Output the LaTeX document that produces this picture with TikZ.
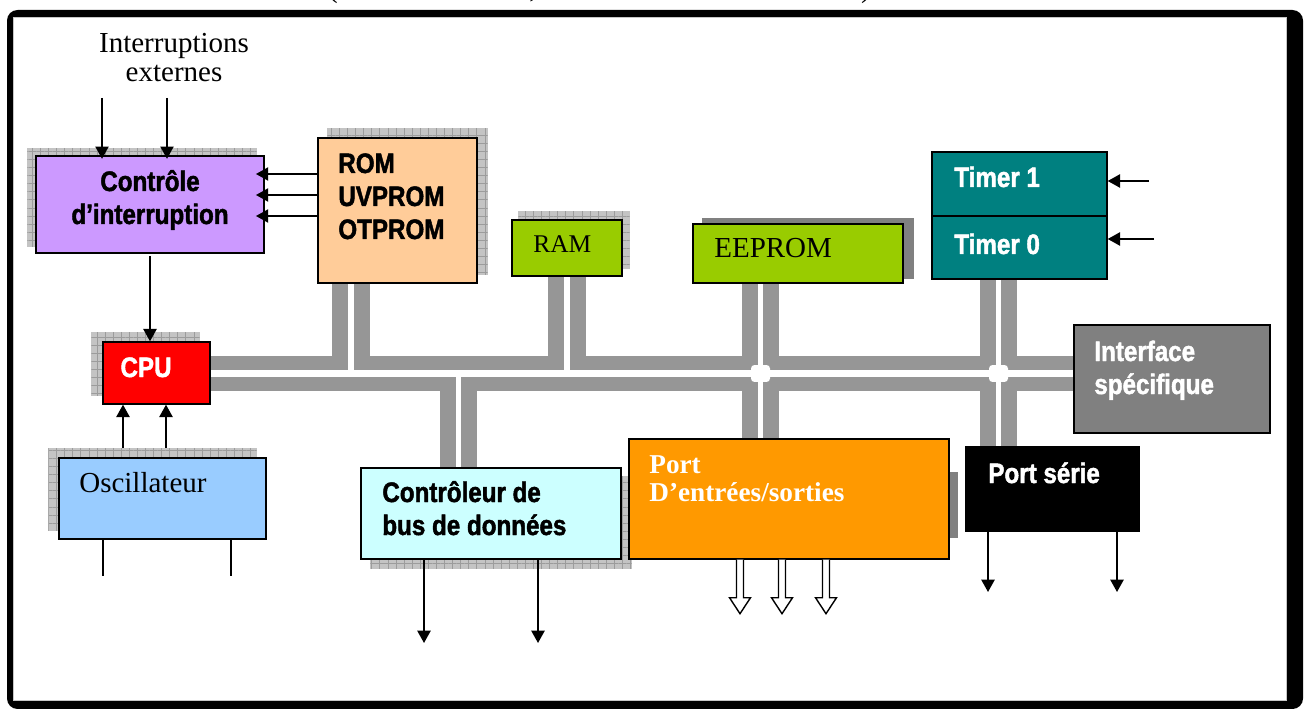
\documentclass[tikz,border=0pt]{standalone}
\usepackage{fontspec}
\setmainfont{Liberation Serif}
\newfontfamily\condfont{Liberation Sans}[FakeStretch=0.86, BoldFeatures={FakeBold=1.6}]
\usetikzlibrary{arrows.meta,fit,patterns.meta}
\definecolor{purpbox}{HTML}{CC99FF}
\definecolor{peachbox}{HTML}{FFCC99}
\definecolor{greenbox}{HTML}{99CC00}
\definecolor{tealbox}{HTML}{008080}
\definecolor{redbox}{HTML}{FF0000}
\definecolor{bluebox}{HTML}{99CCFF}
\definecolor{cyanbox}{HTML}{CCFFFF}
\definecolor{orangebox}{HTML}{FF9900}
\definecolor{greybox}{HTML}{808080}
\definecolor{busgray}{HTML}{969696}
\definecolor{shgray}{HTML}{C4C4C4}
\definecolor{gridgray}{HTML}{9C9C9C}
\definecolor{solidgray}{HTML}{808080}
\pgfdeclarelayer{framelayer}
\pgfdeclarelayer{under}
\pgfsetlayers{framelayer,under,main}
\tikzset{
  harrow/.pic={\draw[line width=0.8pt, fill=white] (-3.5,0) -- (-3.5,38) -- (-10.5,38) -- (0,54) -- (10.5,38) -- (3.5,38) -- (3.5,0);}
}
\begin{document}
\begin{tikzpicture}[x=0.02cm,y=-0.02cm,
  box/.style={draw=black, line width=0.8pt, inner sep=0pt},
  gshadow/.style={fill=shgray, postaction={pattern={Hatch[distance=4.6pt,line width=0.45pt]}, pattern color=gridgray}},
  sshadow/.style={fill=solidgray},
  arr/.style={line width=1pt, -{Triangle[length=7pt,width=7.5pt]}},
  wire/.style={line width=1pt},
  busband/.style={draw=busgray, line width=19.9pt},
  busstub/.style={draw=busgray, line width=21.6pt},
  gaph/.style={draw=white, line width=4.5pt},
  gapv/.style={draw=white, line width=2.9pt},
  cond/.style={font=\condfont\bfseries\fontsize{16}{19}\selectfont, inner sep=0pt, anchor=base west},
  serif/.style={font=\fontsize{16.5}{19}\selectfont, inner sep=0pt, anchor=base west}
]
\useasboundingbox (0,0) rectangle (1307,709);

% frame
\begin{pgfonlayer}{framelayer}
  \fill[black, rounded corners=6pt] (7,10) rectangle (1303,709);
  \fill[white] (13,17) rectangle (1286,700);
  \draw[gray!45, line width=0.5pt] (13,17) rectangle (1286,700);
\end{pgfonlayer}

% cut-off title fragments (only their lower ends are visible in the reference)
\node[serif, anchor=base] (tA) at (333,-2) {(};
\node[serif, anchor=base] (tB) at (533,-2) {,};
\node[serif, anchor=base] (tC) at (866,-2) {)};

% boxes
\node[box, fill=purpbox,   fit={(36,156) (264,253)}]  (ctl) {};
\node[box, fill=peachbox,  fit={(318,138) (477,283)}] (rom) {};
\node[box, fill=greenbox,  fit={(512,220) (622,276)}] (ram) {};
\node[box, fill=greenbox,  fit={(693,224) (903,283)}] (eep) {};
\node[box, fill=tealbox,   fit={(932,152) (1107,216)}] (tm1) {};
\node[box, fill=tealbox,   fit={(932,216) (1107,279)}] (tm0) {};
\node[box, fill=redbox,    fit={(103,342) (210,404)}] (cpu) {};
\node[box, fill=greybox,   fit={(1074,325) (1270,433)}] (iface) {};
\node[box, fill=bluebox,   fit={(59,458) (266,539)}]  (osc) {};
\node[box, fill=cyanbox,   fit={(361,468) (621,559)}] (cb) {};
\node[box, fill=orangebox, fit={(629,439) (949,559)}] (port) {};
\node[box, fill=black,     fit={(966,447) (1139,531)}] (ps) {};

% bus and shadows
\coordinate (busy) at (0,373.5);
\coordinate (xrom) at (351,0);
\coordinate (xram) at (567,0);
\coordinate (xeep) at (760.5,0);
\coordinate (xtm) at (998.5,0);
\coordinate (xcb) at (458.5,0);
\begin{pgfonlayer}{under}
  \draw[busband] (cpu.east |- busy) -- (iface.west |- busy);
  \draw[busstub] (xrom |- rom.south) -- (xrom |- busy);
  \draw[busstub] (xram |- ram.south) -- (xram |- busy);
  \draw[busstub] (xeep |- eep.south) -- (xeep |- port.north);
  \draw[busstub] (xtm |- tm0.south) -- (xtm |- ps.north);
  \draw[busstub] (xcb |- busy) -- (xcb |- cb.north);
  \draw[gaph] (cpu.east |- busy) -- (iface.west |- busy);
  \draw[gapv] (xrom |- rom.south) -- (xrom |- busy);
  \draw[gapv] (xram |- ram.south) -- (xram |- busy);
  \draw[gapv] (xeep |- eep.south) -- (xeep |- port.north);
  \draw[gapv] (xtm |- tm0.south) -- (xtm |- ps.north);
  \draw[gapv] (xcb |- busy) -- (xcb |- cb.north);
  \node[fill=white, rounded corners=2pt, inner sep=0pt, minimum width=0.38cm, minimum height=0.34cm] (j1) at (xeep |- busy) {};
  \node[fill=white, rounded corners=2pt, inner sep=0pt, minimum width=0.38cm, minimum height=0.34cm] (j2) at (xtm |- busy) {};
  % shadows
  \fill[gshadow] ([shift={(-8,-7)}]ctl.south west) rectangle ([shift={(-8,-7)}]ctl.north east);
  \fill[gshadow] ([shift={(10,-9)}]rom.south west) rectangle ([shift={(10,-9)}]rom.north east);
  \fill[gshadow] ([shift={(7,-8)}]ram.south west) rectangle ([shift={(7,-8)}]ram.north east);
  \fill[sshadow] ([shift={(10,-5)}]eep.south west) rectangle ([shift={(10,-5)}]eep.north east);
  \fill[gshadow] ([shift={(-11,-9)}]cpu.south west) rectangle ([shift={(-11,-9)}]cpu.north east);
  \fill[gshadow] ([shift={(-10,-9)}]osc.south west) rectangle ([shift={(-10,-9)}]osc.north east);
  \fill[gshadow] ([shift={(10,9)}]cb.south west) rectangle ([shift={(10,9)}]cb.north east);
  \fill[sshadow] ([shift={(0,34)}]port.north east) rectangle ([shift={(8,-22)}]port.south east);
\end{pgfonlayer}

% texts
\node[serif, anchor=base] (intA) at (174,53) {Interruptions};
\node[serif, anchor=base] (intB) at (174,82) {externes};
\node[cond, anchor=base] (ctlA) at (150,191) {Contrôle};
\node[cond, anchor=base] (ctlB) at (150,224) {d’interruption};
\node[cond] (romA) at (338,173) {ROM};
\node[cond] (romB) at (338,206) {UVPROM};
\node[cond] (romC) at (338,239) {OTPROM};
\node[serif, font=\fontsize{14.5}{17}\selectfont] (ramT) at (533,253) {RAM};
\node[serif] (eepT) at (714,258) {EEPROM};
\node[cond, text=white] (tm1T) at (954,187) {Timer 1};
\node[cond, text=white] (tm0T) at (954,254) {Timer 0};
\node[cond, text=white, anchor=base] (cpuT) at (146,377) {CPU};
\node[cond, text=white] (ifA) at (1094,361) {Interface};
\node[cond, text=white] (ifB) at (1094,394) {spécifique};
\node[serif] (oscT) at (79,492) {Oscillateur};
\node[cond] (cbA) at (382,502) {Contrôleur de};
\node[cond] (cbB) at (382,535) {bus de données};
\node[serif, font=\bfseries\fontsize{15.5}{18}\selectfont, text=white] (portA) at (649,473) {Port};
\node[serif, font=\bfseries\fontsize{15.5}{18}\selectfont, text=white] (portB) at (649,501) {D’entrées/sorties};
\node[cond, text=white] (psT) at (988,483) {Port série};

% arrows
\coordinate (i1) at (102,98);
\coordinate (i2) at (167,98);
\draw[arr, shorten >=-2pt] (i1) -- (i1 |- ctl.north);
\draw[arr, shorten >=-2pt] (i2) -- (i2 |- ctl.north);
\coordinate (r1) at (0,174);
\coordinate (r2) at (0,195);
\coordinate (r3) at (0,216);
\draw[arr, shorten >=-5pt] (rom.west |- r1) -- (ctl.east |- r1);
\draw[arr, shorten >=-5pt] (rom.west |- r2) -- (ctl.east |- r2);
\draw[arr, shorten >=-5pt] (rom.west |- r3) -- (ctl.east |- r3);
\coordinate (c1) at (150,256);
\draw[arr] (c1) -- (c1 |- cpu.north);
\coordinate (o1) at (123,448);
\coordinate (o2) at (166,448);
\draw[arr] (o1) -- (o1 |- cpu.south);
\draw[arr] (o2) -- (o2 |- cpu.south);
\coordinate (w1) at (103,576);
\coordinate (w2) at (231,576);
\draw[wire] (w1 |- osc.south) -- (w1);
\draw[wire] (w2 |- osc.south) -- (w2);
\coordinate (b1) at (424,643);
\coordinate (b2) at (538,643);
\draw[arr] (b1 |- cb.south) -- (b1);
\draw[arr] (b2 |- cb.south) -- (b2);
\coordinate (s1) at (988,592);
\coordinate (s2) at (1117,592);
\draw[arr] (s1 |- ps.south) -- (s1);
\draw[arr] (s2 |- ps.south) -- (s2);
\coordinate (t1) at (1149,181);
\coordinate (t2) at (1154,239);
\draw[arr] (t1) -- (t1 -| tm1.east);
\draw[arr] (t2) -- (t2 -| tm0.east);
\coordinate (h1) at (740,0);
\coordinate (h2) at (782,0);
\coordinate (h3) at (826,0);
\pic at (h1 |- port.south) {harrow};
\pic at (h2 |- port.south) {harrow};
\pic at (h3 |- port.south) {harrow};
\end{tikzpicture}
\end{document}
